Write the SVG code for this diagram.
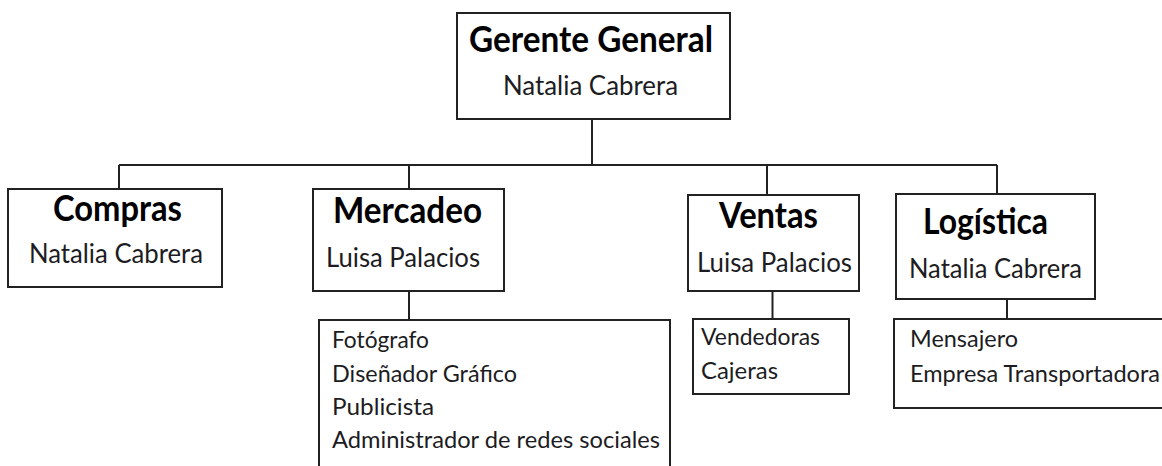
<svg xmlns="http://www.w3.org/2000/svg" width="1162" height="466" viewBox="0 0 1162 466">
<style>
.box{fill:#fff;stroke:#222;stroke-width:2}
.ln{fill:none;stroke:#222;stroke-width:2}
.t{font-family:Lato,"Open Sans","Liberation Sans",sans-serif;font-weight:bold;font-size:36px;fill:#000}
.n{font-family:Lato,"Open Sans","Liberation Sans",sans-serif;font-size:26px;fill:#1c1c22}
.l{font-family:Lato,"Open Sans","Liberation Sans",sans-serif;font-size:23.5px;fill:#1c1c22}
</style>
<rect width="1162" height="466" fill="#fff"/>
<g id="connectors">
<path class="ln" d="M592,119V165M119,165H997M119,165V189M409,165V189M767,165V195M997,165V194M409,291V320M772.5,291V319M1007,299V319"/>
</g>
<g id="gerente">
<rect class="box" x="457" y="13" width="273" height="106"/>
<text class="t" x="469" y="52" textLength="244" lengthAdjust="spacingAndGlyphs">Gerente General</text>
<text class="n" x="503" y="95" textLength="175" lengthAdjust="spacingAndGlyphs">Natalia Cabrera</text>
</g>
<g id="compras">
<rect class="box" x="8" y="189" width="214" height="98"/>
<text class="t" x="53" y="221" textLength="129" lengthAdjust="spacingAndGlyphs">Compras</text>
<text class="n" x="29" y="263" textLength="174" lengthAdjust="spacingAndGlyphs">Natalia Cabrera</text>
</g>
<g id="mercadeo">
<rect class="box" x="313" y="189" width="191" height="102"/>
<text class="t" x="333" y="223" textLength="149" lengthAdjust="spacingAndGlyphs">Mercadeo</text>
<text class="n" x="326" y="267" textLength="154" lengthAdjust="spacingAndGlyphs">Luisa Palacios</text>
</g>
<g id="ventas">
<rect class="box" x="688" y="195" width="171" height="96"/>
<text class="t" x="719" y="228" textLength="99" lengthAdjust="spacingAndGlyphs">Ventas</text>
<text class="n" x="697" y="272" textLength="155" lengthAdjust="spacingAndGlyphs">Luisa Palacios</text>
</g>
<g id="logistica">
<rect class="box" x="896" y="194" width="199" height="105"/>
<text class="t" x="923" y="234" textLength="125" lengthAdjust="spacingAndGlyphs">Logística</text>
<text class="n" x="909" y="278" textLength="173" lengthAdjust="spacingAndGlyphs">Natalia Cabrera</text>
</g>
<g id="mercadeo-staff">
<rect class="box" x="319" y="320" width="351" height="170"/>
<text class="l" x="332" y="348" textLength="97" lengthAdjust="spacingAndGlyphs">Fotógrafo</text>
<text class="l" x="332" y="382" textLength="185" lengthAdjust="spacingAndGlyphs">Diseñador Gráfico</text>
<text class="l" x="332" y="415" textLength="102" lengthAdjust="spacingAndGlyphs">Publicista</text>
<text class="l" x="332" y="448" textLength="328" lengthAdjust="spacingAndGlyphs">Administrador de redes sociales</text>
</g>
<g id="ventas-staff">
<rect class="box" x="693" y="319" width="156" height="75"/>
<text class="l" x="701" y="345" textLength="119" lengthAdjust="spacingAndGlyphs">Vendedoras</text>
<text class="l" x="701" y="379" textLength="77" lengthAdjust="spacingAndGlyphs">Cajeras</text>
</g>
<g id="logistica-staff">
<rect class="box" x="894" y="319" width="290" height="89"/>
<text class="l" x="910" y="347" textLength="108" lengthAdjust="spacingAndGlyphs">Mensajero</text>
<text class="l" x="910" y="382" textLength="250" lengthAdjust="spacingAndGlyphs">Empresa Transportadora</text>
</g>
</svg>
